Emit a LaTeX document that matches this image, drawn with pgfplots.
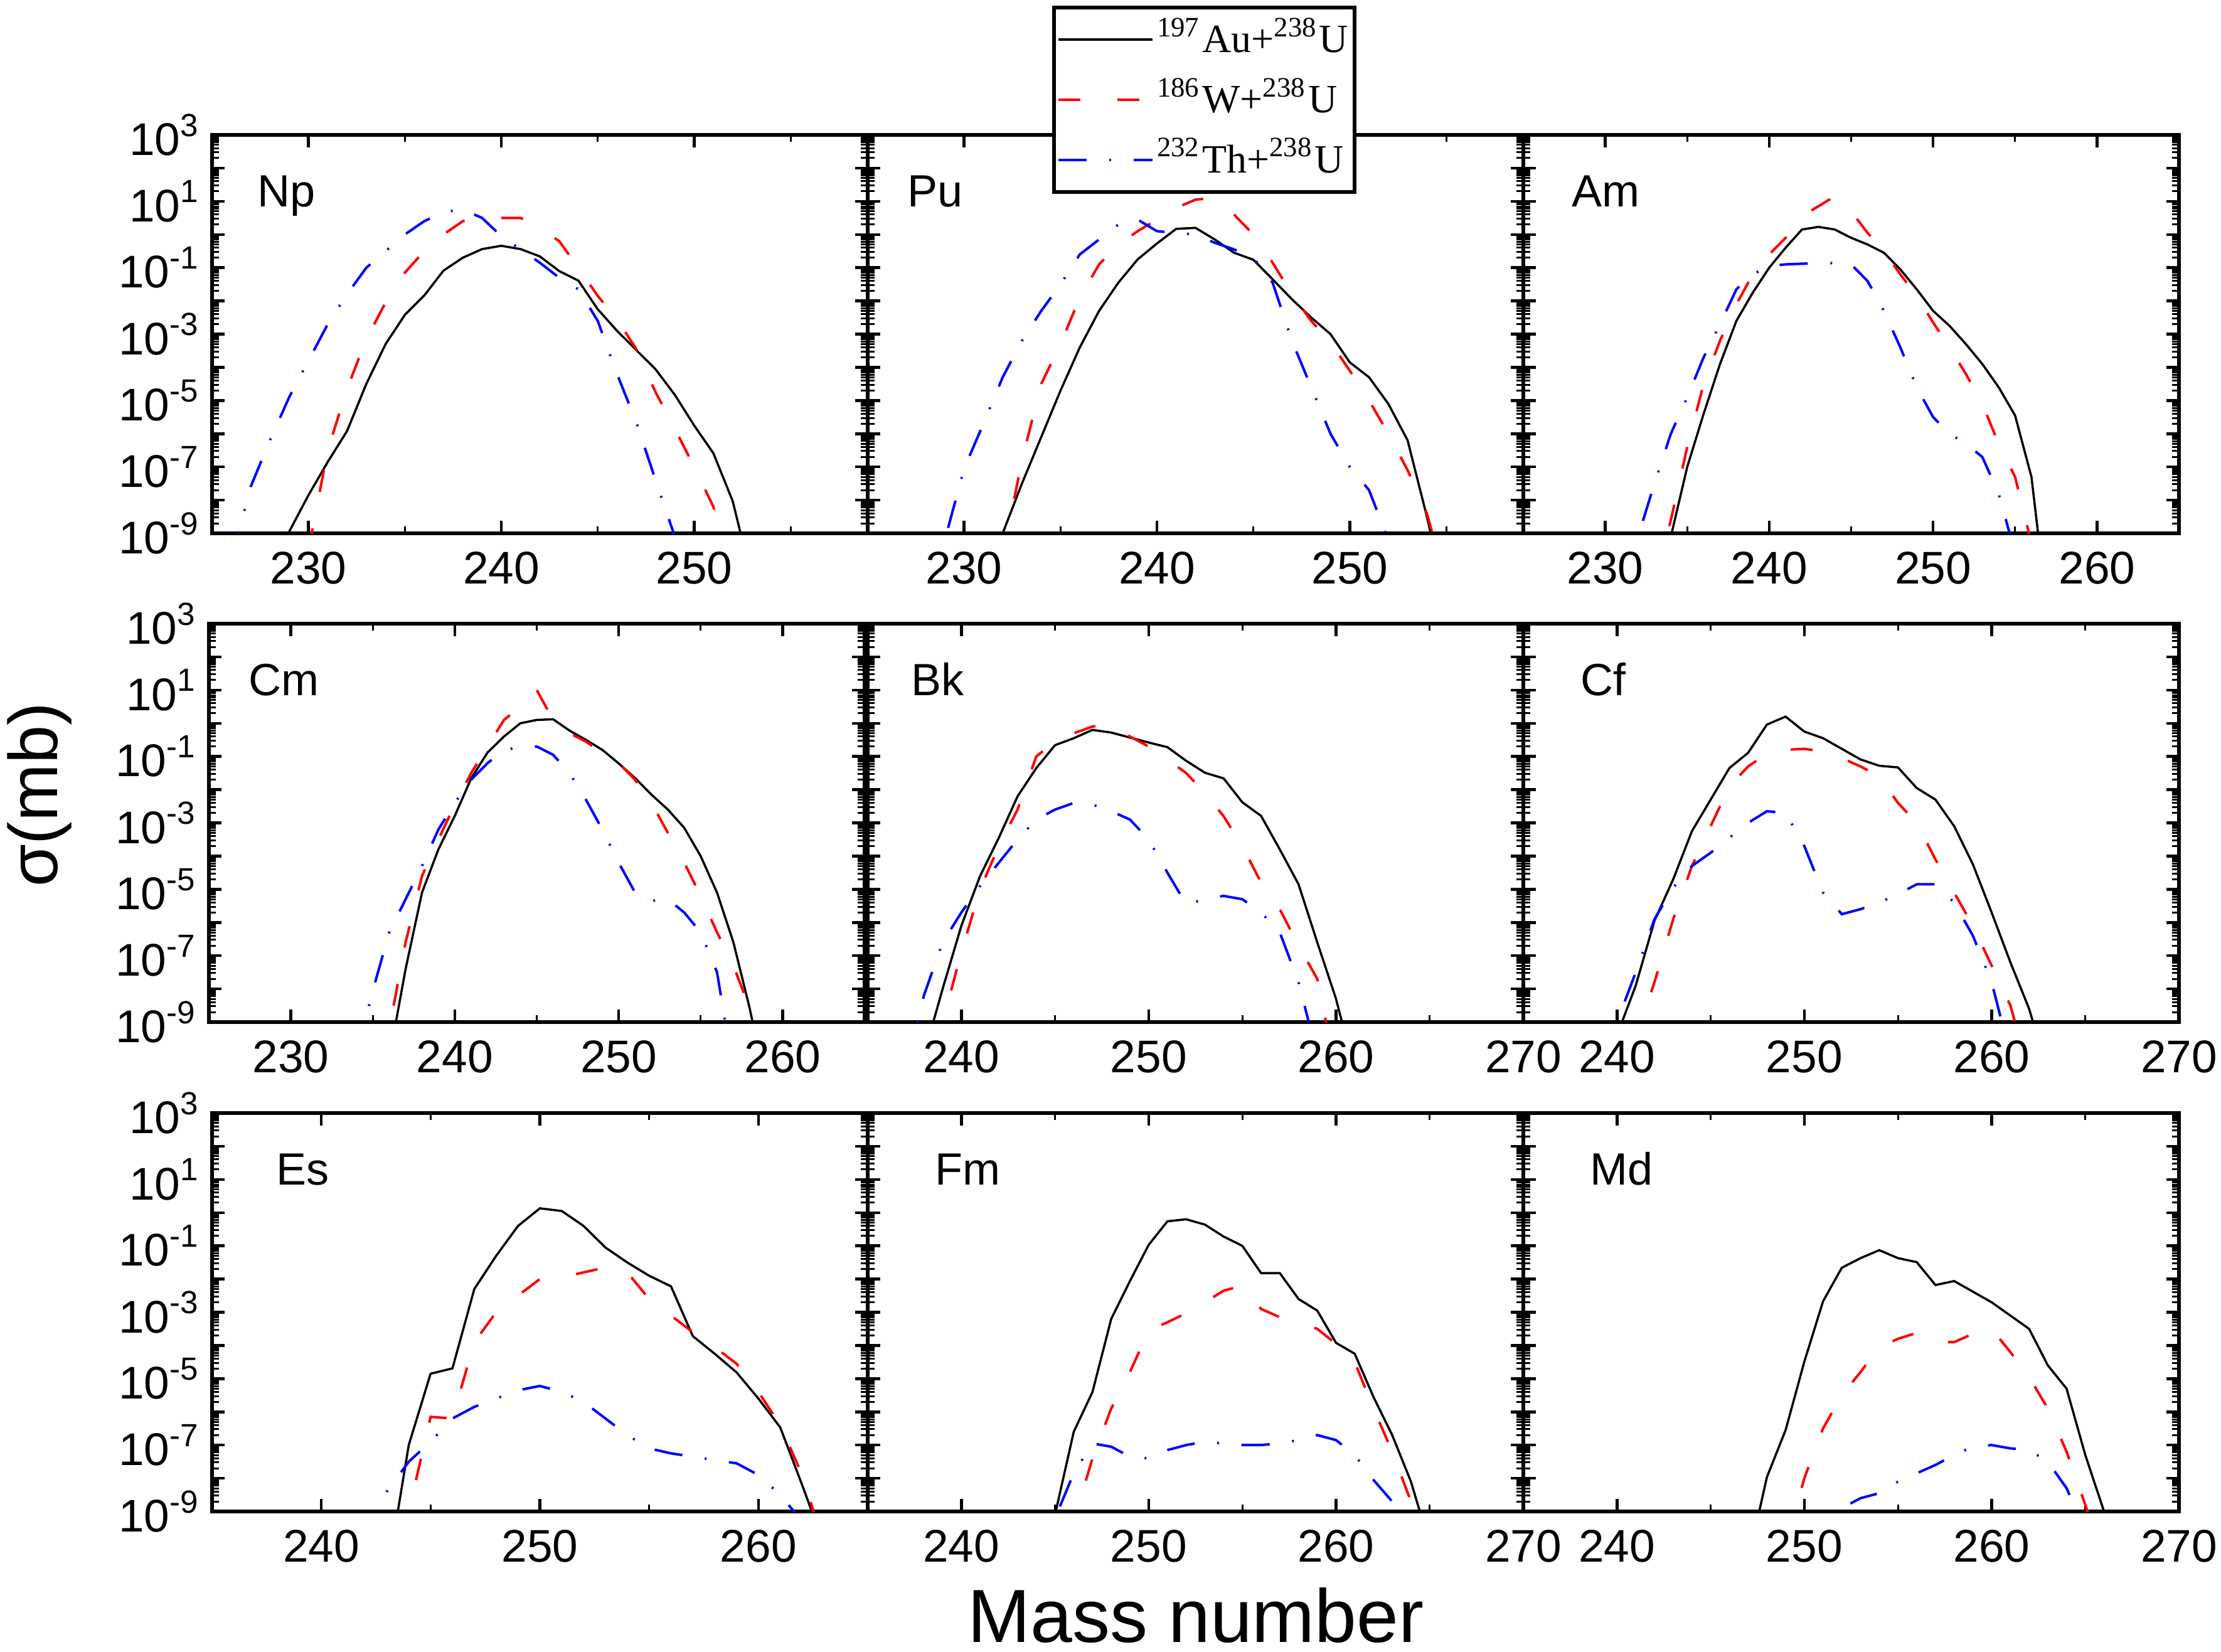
\documentclass[border=0pt]{standalone}
\usepackage{fontspec}
\setmainfont{Liberation Sans}
\newfontfamily\legfont{Liberation Serif}
\usepackage{pgfplots}
\pgfplotsset{compat=1.18}
\def\mt{-8.699,-8.523,-8.398,-8.301,-8.222,-8.155,-8.097,-8.046,-7.699,-7.523,-7.398,-7.301,-7.222,-7.155,-7.097,-7.046,-6.699,-6.523,-6.398,-6.301,-6.222,-6.155,-6.097,-6.046,-5.699,-5.523,-5.398,-5.301,-5.222,-5.155,-5.097,-5.046,-4.699,-4.523,-4.398,-4.301,-4.222,-4.155,-4.097,-4.046,-3.699,-3.523,-3.398,-3.301,-3.222,-3.155,-3.097,-3.046,-2.699,-2.523,-2.398,-2.301,-2.222,-2.155,-2.097,-2.046,-1.699,-1.523,-1.398,-1.301,-1.222,-1.155,-1.097,-1.046,-0.699,-0.523,-0.398,-0.301,-0.222,-0.155,-0.097,-0.046,0.301,0.477,0.602,0.699,0.778,0.845,0.903,0.954,1.301,1.477,1.602,1.699,1.778,1.845,1.903,1.954,2.301,2.477,2.602,2.699,2.778,2.845,2.903,2.954}
\tikzset{
  lab/.style={anchor=base west, inner sep=0pt, font=\fontsize{7.2}{8}\selectfont},
  au/.style={black, line width=0.35pt},
  wu/.style={red, line width=0.4pt, dash pattern=on 3.5pt off 5.9pt},
  thu/.style={blue, line width=0.4pt, dash pattern=on 4.5pt off 3.6pt on 0.3pt off 3.6pt},
}
\pgfplotsset{
  panel/.style={
    scale only axis, width=104.5pt, height=63.5pt, anchor=south west,
    ymin=-9, ymax=3, ytick={-9,-8,...,3},
    minor ytick/.expand once=\mt,
    tick align=inside, tick pos=both,
    major tick length=2pt, minor tick length=1.1pt,
    major tick style={black, line width=0.45pt},
    minor tick style={black, line width=0.3pt},
    axis line style={line width=0.55pt},
    tick label style={font=\fontsize{7.3}{8}\selectfont},
    /pgf/number format/assume math mode=true,
    xticklabel style={yshift=0.6pt},
    yticklabel style={xshift=1.8pt},
    yticklabels={},
  },
  leftcol/.style={yticklabels={{10\textsuperscript{-9}},{},{10\textsuperscript{-7}},{},{10\textsuperscript{-5}},{},{10\textsuperscript{-3}},{},{10\textsuperscript{-1}},{},{10\textsuperscript{1}},{},{10\textsuperscript{3}}}},
}
\begin{document}
\begin{tikzpicture}
\path[use as bounding box] (0,0) rectangle (354pt,263.2pt);
% ---------- Row 1 ----------
\begin{axis}[panel, leftcol, at={(33.8pt,178.2pt)}, xmin=225, xmax=259, xtick={230,240,250}, minor xtick={235,245,255}]
\addplot[au] coordinates {(228,-10.3)(229,-8.95)(230,-7.85)(231,-6.85)(232,-5.92)(233,-4.5)(234,-3.3)(235,-2.42)(236,-1.84)(237,-1.09)(238,-0.7)(239,-0.44)(240,-0.34)(241,-0.44)(242,-0.66)(243,-1.1)(244,-1.39)(245,-2.25)(246,-2.9)(247,-3.48)(248,-4.06)(249,-4.83)(250,-5.75)(251,-6.59)(252,-8.03)(253,-10.4)};
\addplot[wu] coordinates {(230,-9.5)(231,-6.5)(232,-4.65)(233,-3.15)(234,-2.05)(235,-1.15)(236,-0.5)(237,0.0)(238,0.4)(239,0.52)(240,0.5)(241,0.5)(242,0.2)(243,-0.2)(244,-1.0)(245,-1.85)(246,-2.55)(247,-3.45)(248,-4.75)(249,-5.85)(250,-7.0)(251,-8.2)(252,-10.5)};
\addplot[thu] coordinates {(226,-9.8)(227,-7.6)(228,-6.2)(229,-4.9)(230,-3.8)(231,-2.7)(232,-1.8)(233,-1.0)(234,-0.5)(235,0.0)(236,0.4)(237,0.68)(238,0.75)(239,0.5)(240,-0.05)(241,-0.45)(242,-0.85)(243,-1.3)(244,-1.65)(245,-2.6)(246,-4.2)(247,-5.65)(248,-7.4)(249,-9.1)};
\node[lab] at (rel axis cs:0.067,0.82) {Np};
\end{axis}
\begin{axis}[panel, at={(138.3pt,178.2pt)}, xmin=225, xmax=259, xtick={230,240,250}, minor xtick={235,245,255},
  legend style={at={(0.281,1.324)}, anchor=north west, draw=black, line width=0.6pt, fill=white,
    font=\legfont\fontsize{6.4}{7}\selectfont, inner xsep=0.5pt, inner ysep=0.6pt, row sep=0.6pt,
    nodes={inner xsep=0.5pt, inner ysep=1pt},
    /tikz/every even column/.append style={column sep=1.4pt}},
  legend cell align=left,
  legend image code/.code={\draw[#1, line width=0.45pt] (0pt,0pt) -- (15pt,0pt);}]
\addplot[au] coordinates {(231,-10.5)(232,-9.0)(233,-7.5)(234,-6.1)(235,-4.7)(236,-3.4)(237,-2.3)(238,-1.45)(239,-0.75)(240,-0.27)(241,0.17)(242,0.2)(243,-0.15)(244,-0.55)(245,-0.76)(246,-1.35)(247,-1.95)(248,-2.5)(249,-3.0)(250,-3.85)(251,-4.3)(252,-5.1)(253,-6.2)(254,-8.5)(255,-11)};
\addlegendentry{\textsuperscript{197}Au+\textsuperscript{238}U}
\addplot[wu] coordinates {(232,-9.7)(233,-6.8)(234,-4.5)(235,-3.3)(236,-1.9)(237,-0.9)(238,-0.3)(239,0.1)(240,0.45)(241,0.8)(242,1.05)(243,1.1)(244,0.6)(245,0.0)(246,-0.85)(247,-1.8)(248,-2.6)(249,-3.25)(250,-4.1)(251,-5.0)(252,-6.0)(253,-7.1)(254,-8.4)(255,-10.5)};
\addlegendentry{\textsuperscript{186}W+\textsuperscript{238}U}
\addplot[thu] coordinates {(228,-11)(229,-9.2)(230,-7.05)(231,-5.7)(232,-4.3)(233,-3.2)(234,-2.3)(235,-1.5)(236,-0.6)(237,-0.15)(238,0.3)(239,0.45)(240,0.1)(241,0.05)(242,0.0)(243,-0.25)(244,-0.45)(245,-0.7)(246,-1.45)(247,-3.2)(248,-4.6)(249,-6.0)(250,-7.0)(251,-7.7)(252,-9.2)};
\addlegendentry{\textsuperscript{232}Th+\textsuperscript{238}U}
\node[lab] at (rel axis cs:0.059,0.82) {Pu};
\end{axis}
\begin{axis}[panel, at={(242.8pt,178.2pt)}, xmin=225, xmax=265, xtick={230,240,250,260}, minor xtick={235,245,255}]
\addplot[au] coordinates {(233,-11.5)(234,-9.1)(235,-7.0)(236,-5.4)(237,-3.9)(238,-2.6)(239,-1.75)(240,-1.0)(241,-0.4)(242,0.15)(243,0.23)(244,0.15)(245,-0.1)(246,-0.3)(247,-0.55)(248,-1.05)(249,-1.65)(250,-2.3)(251,-2.75)(252,-3.3)(253,-3.9)(254,-4.6)(255,-5.45)(256,-7.3)(257,-11.5)};
\addplot[wu] coordinates {(233,-10.5)(234,-8.6)(235,-6.4)(236,-4.5)(237,-3.2)(238,-2.1)(239,-1.2)(240,-0.6)(241,-0.1)(242,0.55)(243,0.85)(244,1.15)(245,0.7)(246,0.05)(247,-0.5)(248,-1.2)(249,-1.85)(250,-2.65)(251,-3.4)(252,-4.2)(253,-5.1)(254,-6.3)(255,-7.3)(256,-9.3)};
\addplot[thu] coordinates {(231,-10.8)(232,-9.1)(233,-7.5)(234,-6.0)(235,-4.9)(236,-3.7)(237,-2.7)(238,-1.65)(239,-1.2)(240,-0.95)(241,-0.9)(242,-0.88)(243,-0.87)(244,-0.86)(245,-0.9)(246,-1.4)(247,-2.3)(248,-3.4)(249,-4.6)(250,-5.5)(251,-6.0)(252,-6.3)(253,-6.7)(254,-7.8)(255,-9.6)};
\node[lab] at (rel axis cs:0.072,0.82) {Am};
\end{axis}
% ---------- Row 2 ----------
\begin{axis}[panel, leftcol, at={(33.3pt,100.3pt)}, xmin=225, xmax=265, xtick={230,240,250,260}, minor xtick={235,245,255}]
\addplot[au] coordinates {(236,-10.1)(237,-7.4)(238,-5.1)(239,-3.8)(240,-2.79)(241,-1.66)(242,-0.88)(243,-0.4)(244,0.0)(245,0.1)(246,0.12)(247,-0.22)(248,-0.5)(249,-0.8)(250,-1.21)(251,-1.65)(252,-2.15)(253,-2.6)(254,-3.15)(255,-4.0)(256,-5.1)(257,-6.6)(258,-8.6)(259,-11)};
\addplot[wu] coordinates {(235,-12)(236,-9.2)(237,-6.6)(238,-4.6)(239,-3.5)(240,-2.45)(241,-1.5)(242,-0.7)(243,0.1)(244,0.5)(245,1.0)(246,0.1)(247,-0.3)(248,-0.55)(249,-0.9)(250,-1.2)(251,-1.7)(252,-2.4)(253,-3.3)(254,-4.2)(255,-5.2)(256,-6.3)(257,-7.3)(258,-8.6)(259,-11)};
\addplot[thu] coordinates {(234,-10)(235,-8.05)(236,-6.3)(237,-5.3)(238,-4.3)(239,-3.2)(240,-2.4)(241,-1.7)(242,-1.2)(243,-0.8)(244,-0.72)(245,-0.7)(246,-0.95)(247,-1.5)(248,-2.3)(249,-3.2)(250,-4.2)(251,-5.1)(252,-5.35)(253,-5.3)(254,-5.7)(255,-6.3)(256,-7.5)(257,-10.5)};
\node[lab] at (rel axis cs:0.059,0.82) {Cm};
\end{axis}
\begin{axis}[panel, at={(138.3pt,100.3pt)}, xmin=235, xmax=270, xtick={240,250,260,270}, minor xtick={245,255,265}]
\addplot[au] coordinates {(238,-10.0)(239,-8.0)(240,-6.1)(241,-4.6)(242,-3.45)(243,-2.2)(244,-1.35)(245,-0.66)(246,-0.45)(247,-0.2)(248,-0.28)(249,-0.43)(250,-0.58)(251,-0.72)(252,-1.13)(253,-1.49)(254,-1.66)(255,-2.38)(256,-2.79)(257,-3.8)(258,-4.85)(259,-6.6)(260,-8.3)(261,-10.5)};
\addplot[wu] coordinates {(238,-11.5)(239,-9.0)(240,-6.9)(241,-5.0)(242,-3.7)(243,-2.6)(244,-1.0)(245,-0.55)(246,-0.3)(247,-0.1)(248,0.0)(249,-0.4)(250,-0.7)(251,-1.09)(252,-1.5)(253,-2.1)(254,-2.8)(255,-3.7)(256,-4.8)(257,-5.6)(258,-6.7)(259,-7.7)(260,-10.5)};
\addplot[thu] coordinates {(237,-10.5)(238,-8.2)(239,-6.6)(240,-5.7)(241,-4.9)(242,-4.2)(243,-3.5)(244,-2.9)(245,-2.6)(246,-2.4)(247,-2.45)(248,-2.65)(249,-2.9)(250,-3.5)(251,-4.5)(252,-5.45)(253,-5.3)(254,-5.2)(255,-5.3)(256,-5.7)(257,-6.3)(258,-7.8)(259,-10)};
\node[lab] at (rel axis cs:0.065,0.82) {Bk};
\end{axis}
\begin{axis}[panel, at={(242.8pt,100.3pt)}, xmin=235, xmax=270, xtick={240,250,260,270}, minor xtick={245,255,265}]
\addplot[au] coordinates {(239,-11)(240,-9.4)(241,-7.9)(242,-5.95)(243,-4.7)(244,-3.25)(245,-2.3)(246,-1.35)(247,-0.89)(248,-0.04)(249,0.2)(250,-0.25)(251,-0.45)(252,-0.77)(253,-1.09)(254,-1.28)(255,-1.33)(256,-1.95)(257,-2.3)(258,-3.1)(259,-4.25)(260,-5.7)(261,-7.2)(262,-8.6)(263,-10.5)};
\addplot[wu] coordinates {(240,-11.5)(241,-9.5)(242,-7.8)(243,-5.9)(244,-4.3)(245,-3.1)(246,-1.9)(247,-1.3)(248,-0.92)(249,-0.8)(250,-0.77)(251,-0.85)(252,-1.05)(253,-1.3)(254,-1.6)(255,-2.4)(256,-3.0)(257,-4.1)(258,-5.1)(259,-6.1)(260,-7.3)(261,-8.5)(262,-10.5)};
\addplot[thu] coordinates {(239,-10.5)(240,-9.0)(241,-7.5)(242,-5.9)(243,-4.95)(244,-4.3)(245,-3.9)(246,-3.45)(247,-3.0)(248,-2.65)(249,-2.7)(250,-3.7)(251,-5.1)(252,-5.75)(253,-5.6)(254,-5.4)(255,-5.15)(256,-4.85)(257,-4.85)(258,-5.4)(259,-6.4)(260,-7.8)(261,-10)};
\node[lab] at (rel axis cs:0.086,0.82) {Cf};
\end{axis}
% ---------- Row 3 ----------
\begin{axis}[panel, leftcol, at={(33.8pt,22.3pt)}, xmin=235, xmax=265, xtick={240,250,260}, minor xtick={245,255}]
\addplot[au] coordinates {(243,-11)(244,-7.0)(245,-4.85)(246,-4.69)(247,-2.3)(248,-1.3)(249,-0.4)(250,0.13)(251,0.05)(252,-0.4)(253,-1.05)(254,-1.5)(255,-1.9)(256,-2.22)(257,-3.72)(258,-4.25)(259,-4.81)(260,-5.6)(261,-6.47)(262,-8.2)(263,-10)};
\addplot[wu] coordinates {(243,-11.5)(244,-9.0)(245,-6.15)(246,-6.2)(247,-3.9)(248,-3.0)(249,-2.5)(250,-2.0)(251,-1.95)(252,-1.8)(253,-1.65)(254,-1.8)(255,-2.6)(256,-3.1)(257,-3.6)(258,-4.05)(259,-4.55)(260,-5.4)(261,-6.4)(262,-7.9)(263,-10)};
\addplot[thu] coordinates {(242,-9.8)(243,-8.4)(244,-7.5)(245,-6.9)(246,-6.2)(247,-5.85)(248,-5.6)(249,-5.35)(250,-5.22)(251,-5.4)(252,-5.7)(253,-6.2)(254,-6.7)(255,-7.1)(256,-7.25)(257,-7.35)(258,-7.45)(259,-7.55)(260,-7.9)(261,-8.5)(262,-9.3)};
\node[lab] at (rel axis cs:0.096,0.82) {Es};
\end{axis}
\begin{axis}[panel, at={(138.3pt,22.3pt)}, xmin=235, xmax=270, xtick={240,250,260,270}, minor xtick={245,255,265}]
\addplot[au] coordinates {(244,-12)(245,-9.1)(246,-6.6)(247,-5.4)(248,-3.2)(249,-2.06)(250,-0.97)(251,-0.26)(252,-0.2)(253,-0.36)(254,-0.72)(255,-1.0)(256,-1.82)(257,-1.82)(258,-2.6)(259,-2.95)(260,-3.92)(261,-4.25)(262,-5.55)(263,-6.7)(264,-8.1)(265,-10)};
\addplot[wu] coordinates {(245,-11.5)(246,-9.3)(247,-7.4)(248,-5.9)(249,-4.8)(250,-3.55)(251,-3.3)(252,-3.03)(253,-2.7)(254,-2.35)(255,-2.2)(256,-2.9)(257,-3.15)(258,-3.3)(259,-3.5)(260,-3.95)(261,-4.5)(262,-5.9)(263,-7.2)(264,-8.7)(265,-10.5)};
\addplot[thu] coordinates {(244,-11)(245,-9.2)(246,-7.85)(247,-6.95)(248,-7.05)(249,-7.35)(250,-7.4)(251,-7.15)(252,-7.0)(253,-6.9)(254,-6.95)(255,-7.0)(256,-7.0)(257,-6.95)(258,-6.85)(259,-6.7)(260,-6.85)(261,-7.3)(262,-8.05)(263,-8.7)(264,-9.6)};
\node[lab] at (rel axis cs:0.101,0.82) {Fm};
\end{axis}
\begin{axis}[panel, at={(242.8pt,22.3pt)}, xmin=235, xmax=270, xtick={240,250,260,270}, minor xtick={245,255,265}]
\addplot[au] coordinates {(247,-10.5)(248,-7.97)(249,-6.55)(250,-4.49)(251,-2.67)(252,-1.66)(253,-1.37)(254,-1.13)(255,-1.37)(256,-1.49)(257,-2.18)(258,-2.06)(259,-2.38)(260,-2.7)(261,-3.1)(262,-3.5)(263,-4.6)(264,-5.3)(265,-7.3)(266,-9)(267,-11)};
\addplot[wu] coordinates {(249,-10)(250,-8.0)(251,-6.5)(252,-5.5)(253,-4.8)(254,-4.05)(255,-3.8)(256,-3.62)(257,-3.9)(258,-3.9)(259,-3.65)(260,-3.5)(261,-4.2)(262,-4.95)(263,-5.9)(264,-7.2)(265,-8.8)(266,-10.5)};
\addplot[thu] coordinates {(250,-10.5)(251,-9.5)(252,-8.9)(253,-8.6)(254,-8.45)(255,-8.1)(256,-7.85)(257,-7.6)(258,-7.3)(259,-7.05)(260,-7.0)(261,-7.1)(262,-7.15)(263,-7.5)(264,-8.3)(265,-9.6)};
\node[lab] at (rel axis cs:0.1,0.82) {Md};
\end{axis}
% ---------- axis titles ----------
\node[rotate=90, font=\fontsize{11}{13}\selectfont] at (6.3pt,136.5pt) {σ(mb)};
\node[anchor=base, font=\fontsize{12}{14}\selectfont] at (190.6pt,1.5pt) {Mass number};
\end{tikzpicture}
\end{document}
